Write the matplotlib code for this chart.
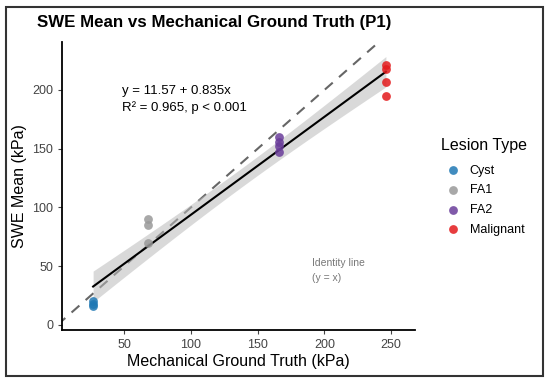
import numpy as np
import matplotlib
matplotlib.use("Agg")
import matplotlib.pyplot as plt
from matplotlib.patches import Rectangle

plt.rcParams['font.family'] = ['Liberation Sans', 'DejaVu Sans']

# data
groups = ["Cyst", "FA1", "FA2", "Malignant"]
colors = ["#1f78b4", "#999999", "#6a3d9a", "#e31a1c"]
truth = [26.7, 67.5, 166, 246]
swe = [
    [16, 18, 20],
    [70, 85, 90],
    [147, 152, 156, 160],
    [195, 207, 218, 221],
]
eq_text = "y = 11.57 + 0.835x\nR² = 0.965, p < 0.001"

fig = plt.figure(figsize=(5.5, 3.83), dpi=100)
ax = fig.add_axes([0.113, 0.138, 0.642, 0.753])

xs = np.concatenate([[t] * len(v) for t, v in zip(truth, swe)])
ys = np.concatenate(swe)

# identity line
ax.plot([0, 300], [0, 300], ls=(0, (5, 4)), color="#666666", lw=1.5, zorder=1)

# regression + 95% band
b1, b0 = np.polyfit(xs, ys, 1)
n = len(xs)
res = ys - (b0 + b1 * xs)
s = np.sqrt(np.sum(res ** 2) / (n - 2))
sxx = np.sum((xs - xs.mean()) ** 2)
xl = np.linspace(xs.min(), xs.max(), 100)
yl = b0 + b1 * xl
se = s * np.sqrt(1 / n + (xl - xs.mean()) ** 2 / sxx)
tq = 2.179
ax.fill_between(xl, yl - tq * se, yl + tq * se, color="#bbbbbb", alpha=0.55, lw=0, zorder=2)
ax.plot(xl, yl, color="black", lw=1.5, zorder=3)

for g, c, t, v in zip(groups, colors, truth, swe):
    ax.scatter([t] * len(v), v, s=40, color=c, alpha=0.85, lw=0, label=g, zorder=4)

ax.text(48.5, 204.5, eq_text, fontsize=9.5, va="top", ha="left", linespacing=1.5)
ax.text(191, 57, "Identity line\n(y = x)", fontsize=7.5, color="#777777", va="top", ha="left", linespacing=1.7)

ax.set_xlim(3.5, 268)
ax.set_ylim(-4.5, 241)
ax.set_xticks([50, 100, 150, 200, 250])
ax.set_yticks([0, 50, 100, 150, 200])
ax.spines[["top", "right"]].set_visible(False)
for sp in ["left", "bottom"]:
    ax.spines[sp].set_linewidth(1.3)
ax.tick_params(colors="#444444", labelsize=9, length=3, width=0.8)
ax.set_xlabel("Mechanical Ground Truth (kPa)", fontsize=11.5, labelpad=2)
ax.set_ylabel("SWE Mean (kPa)", fontsize=11.5, labelpad=4)

fig.text(0.067, 0.94, "SWE Mean vs Mechanical Ground Truth (P1)", fontsize=12.2, fontweight="bold", va="center")

leg = fig.legend(loc="upper left", bbox_to_anchor=(0.781, 0.668), frameon=False, title="Lesion Type",
                 fontsize=9, title_fontsize=11.5, handletextpad=0.3, labelspacing=0.62,
                 markerscale=1.0, alignment="left")
leg._legend_box.sep = 8

fig.patches.append(Rectangle((6 / 550, 7 / 383), 537 / 550, 369 / 383, transform=fig.transFigure,
                             fill=False, edgecolor="#333333", lw=1.5))

fig.savefig("out.png", dpi=100)
